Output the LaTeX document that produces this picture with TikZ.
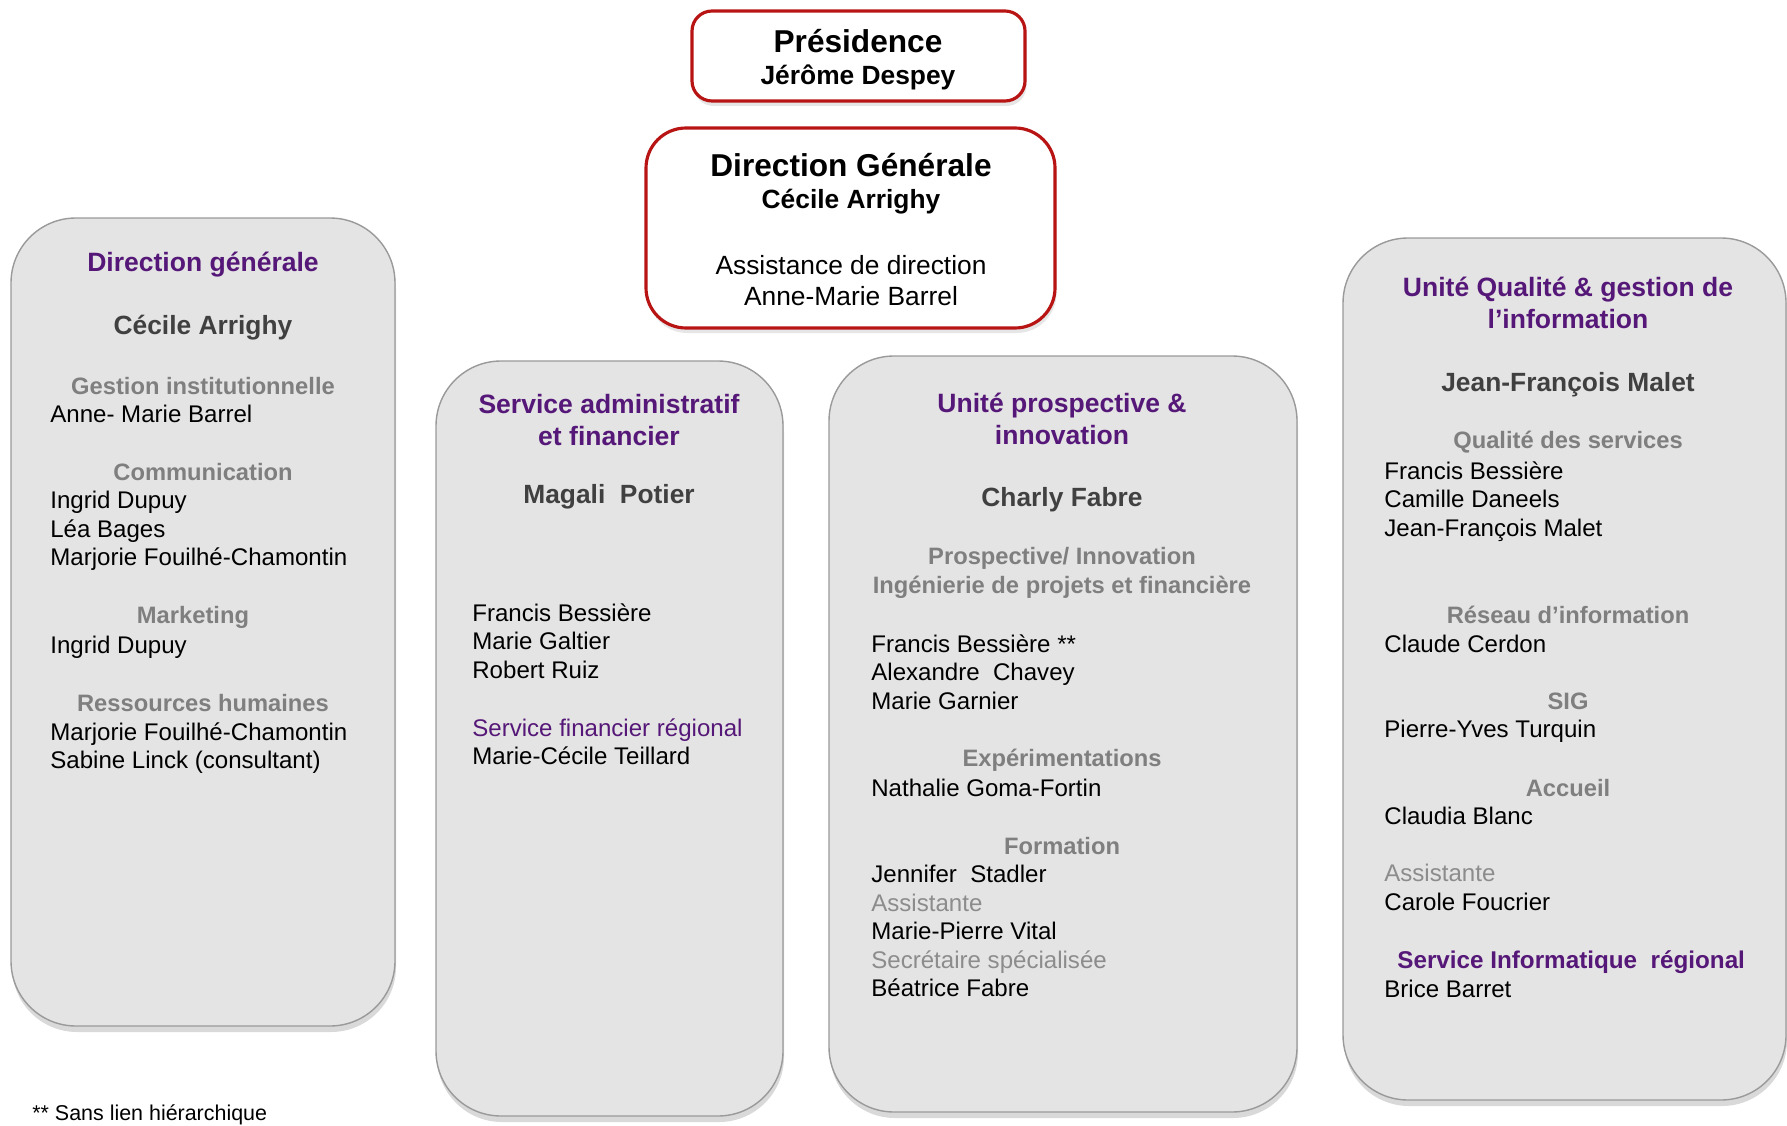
\documentclass[tikz,border=0pt]{standalone}
\usepackage{fontspec}
\setmainfont{Liberation Sans}
\usetikzlibrary{shadows}
\definecolor{panelgray}{HTML}{E4E4E4}
\definecolor{panelline}{HTML}{9A9A9A}
\definecolor{redline}{HTML}{B81414}
\definecolor{titlepurple}{HTML}{561878}
\definecolor{darkname}{HTML}{404040}
\definecolor{subgray}{HTML}{7F7F7F}
\definecolor{assistgray}{HTML}{8C8C8C}
\tikzset{
	panel/.style={fill=panelgray, draw=panelline, line width=0.8pt, rounded corners=1.3cm,
		drop shadow={shadow xshift=0.02cm, shadow yshift=-0.12cm, opacity=0.3}},
	redbox/.style={fill=white, draw=redline, line width=1.8pt,
		drop shadow={shadow xshift=0.03cm, shadow yshift=-0.1cm, opacity=0.2}},
	headtxt/.style={font=\bfseries\fontsize{15.1}{18}\selectfont, text=titlepurple, align=center, inner sep=0},
	bossname/.style={font=\bfseries\fontsize{15}{18}\selectfont, text=darkname, inner sep=0},
	subhead/.style={font=\bfseries\fontsize{13.5}{16.2}\selectfont, text=subgray, align=center, inner sep=0},
	people/.style={font=\fontsize{13.7}{16.2}\selectfont, align=left, anchor=north west, inner sep=0}
}
\begin{document}
\begin{tikzpicture}[x=0.02cm, y=-0.02cm]
	\useasboundingbox (0,0) rectangle (1787,1125);

	% top boxes
	\draw[redbox, rounded corners=0.4cm] (692,11) rectangle (1025,101);
	\node[font=\bfseries\fontsize{18}{21}\selectfont, inner sep=0] (presid) at (858,41) {Présidence};
	\node[font=\bfseries\fontsize{15}{18}\selectfont, inner sep=0] (presname) at (858,77) {Jérôme Despey};

	\draw[redbox, rounded corners=0.8cm] (646,128) rectangle (1055,328);
	\node[font=\bfseries\fontsize{18}{21}\selectfont, inner sep=0] (dg) at (851,165) {Direction Générale};
	\node[font=\bfseries\fontsize{15}{18}\selectfont, inner sep=0] (dgname) at (851,202) {Cécile Arrighy};
	\node[font=\fontsize{15}{17.6}\selectfont, align=center, inner sep=0] (dgassist) at (851,281)
		{Assistance de direction\\Anne-Marie Barrel};

	% panels
	\draw[panel] (11,218) rectangle (395,1026);
	\draw[panel] (436,361) rectangle (783,1116);
	\draw[panel] (829,356) rectangle (1297,1112);
	\draw[panel] (1343,238) rectangle (1786,1100);

	% Direction generale
	\node[headtxt] (dirgen) at (203,265) {Direction générale};
	\node[bossname] (dirgenboss) at (203,328) {Cécile Arrighy};
	\node[subhead] (gestinst) at (203,386) {Gestion institutionnelle};
	\node[people] (gestinstp) at (50,405) {Anne- Marie Barrel};
	\node[subhead] (comm) at (203,472) {Communication};
	\node[people] (commp) at (50,491) {Ingrid Dupuy\\Léa Bages\\Marjorie Fouilhé-Chamontin};
	\node[subhead] (market) at (193,617) {Marketing};
	\node[people] (marketp) at (50,636) {Ingrid Dupuy};
	\node[subhead] (rh) at (203,703) {Ressources humaines};
	\node[people] (rhp) at (50,722) {Marjorie Fouilhé-Chamontin\\Sabine Linck (consultant)};

	% Service administratif et financier
	\node[headtxt] (saf) at (609,420) {Service administratif\\et financier};
	\node[bossname] (safboss) at (609,497) {Magali\ \ Potier};
	\node[people] (safp) at (472,603) {Francis Bessière\\Marie Galtier\\Robert Ruiz};
	\node[people] (sfr) at (472,718) {\textcolor{titlepurple}{Service financier régional}\\Marie-Cécile Teillard};

	% Unite prospective et innovation
	\node[headtxt] (upi) at (1062,419) {Unité prospective \&\\innovation};
	\node[bossname] (upiboss) at (1062,500) {Charly Fabre};
	\node[subhead] (prosp) at (1062,573) {Prospective/ Innovation\\Ingénierie de projets et financière};
	\node[people] (prospp) at (871,634) {Francis Bessière **\\Alexandre\ \ Chavey\\Marie Garnier};
	\node[subhead] (exper) at (1062,760) {Expérimentations};
	\node[people] (experp) at (871,779) {Nathalie Goma-Fortin};
	\node[subhead] (form) at (1062,846) {Formation};
	\node[people] (formp) at (871,865) {Jennifer\ \ Stadler\\\textcolor{assistgray}{Assistante}\\Marie-Pierre Vital\\\textcolor{assistgray}{Secrétaire spécialisée}\\Béatrice Fabre};

	% Unite qualite et gestion de l'information
	\node[headtxt] (uqgi) at (1568,303) {Unité Qualité \& gestion de\\l’information};
	\node[bossname] (uqgiboss) at (1568,385) {Jean-François Malet};
	\node[subhead] (qualserv) at (1568,442) {Qualité des services};
	\node[people] (qualservp) at (1384,461) {Francis Bessière\\Camille Daneels\\Jean-François Malet};
	\node[subhead] (reseau) at (1568,615) {Réseau d’information};
	\node[people] (reseaup) at (1384,635) {Claude Cerdon};
	\node[subhead] (sig) at (1568,701) {SIG};
	\node[people] (sigp) at (1384,720) {Pierre-Yves Turquin};
	\node[subhead] (accueil) at (1568,788) {Accueil};
	\node[people] (accueilp) at (1384,807) {Claudia Blanc};
	\node[people] (assistp) at (1384,864) {\textcolor{assistgray}{Assistante}\\Carole Foucrier};
	\node[subhead, font=\bfseries\fontsize{13.8}{16.2}\selectfont, text=titlepurple, anchor=west] (sir) at (1397,962) {Service Informatique\ \ régional};
	\node[people] (sirp) at (1384,980) {Brice Barret};

	\node[font=\fontsize{12.2}{14}\selectfont, anchor=south west, inner sep=0] (note) at (32,1125) {** Sans lien hiérarchique};
\end{tikzpicture}
\end{document}
